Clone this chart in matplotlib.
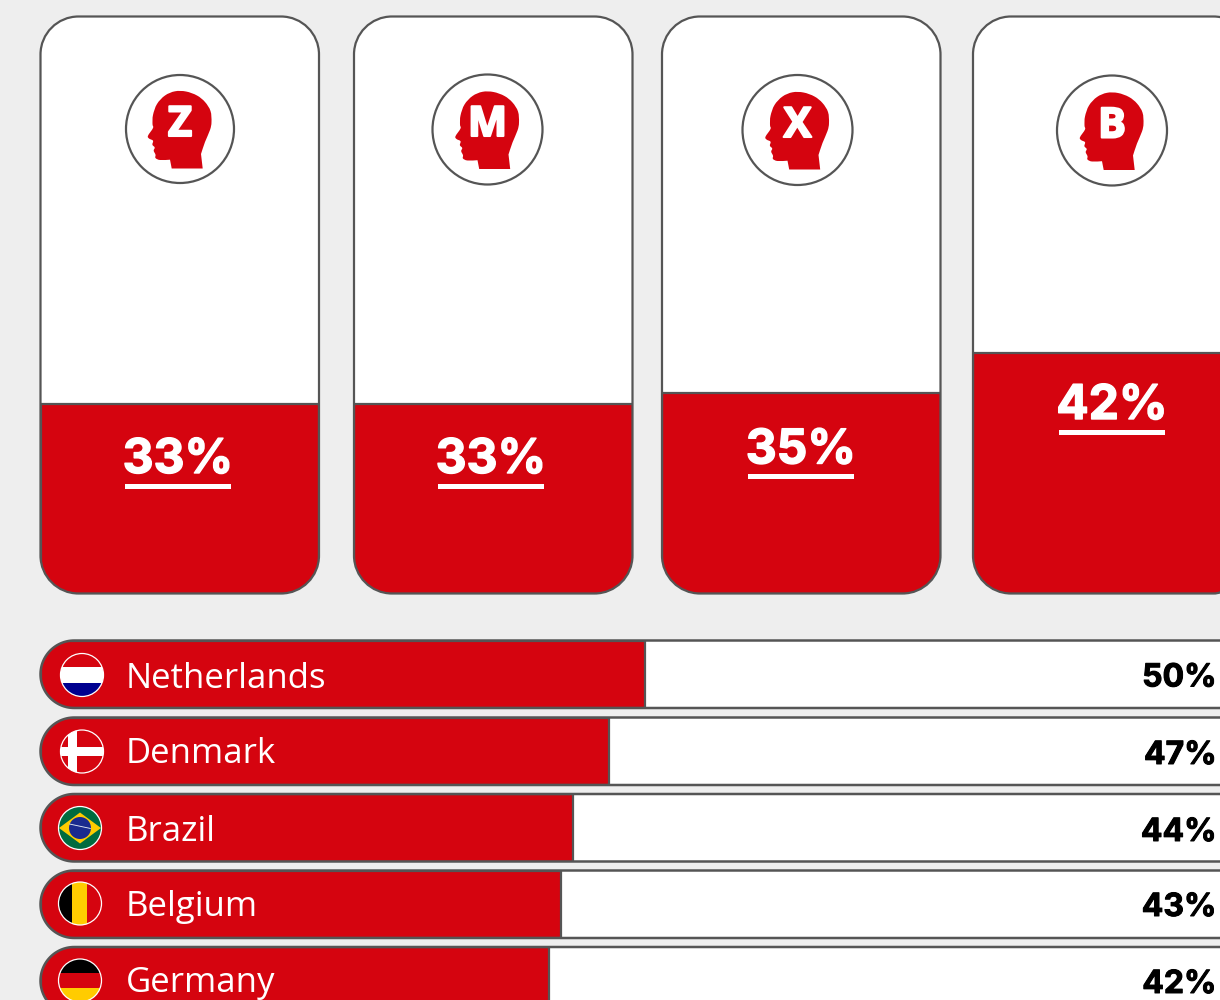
import matplotlib
matplotlib.use("Agg")
import matplotlib.pyplot as plt
import matplotlib.patheffects as pe
import numpy as np
from matplotlib.lines import Line2D
from matplotlib.patches import Circle, PathPatch, Polygon, Rectangle
from matplotlib.path import Path

# ---- data
generations = ["Z", "M", "X", "B"]
generation_values = [33, 33, 35, 42]
countries = ["Netherlands", "Denmark", "Brazil", "Belgium", "Germany"]
country_values = [50, 47, 44, 43, 42]

# ---- style and layout
RED = "#d5040f"
EDGE = "#555555"
BG = "#eeeeee"
FONT = "Open Sans"
BOLD = "Inter"
LW = 1.6

card_lefts = [40.5, 354, 662, 973]
card_width = 278.5
card_top, card_bottom = 16.5, 593.5
card_r = 38
card_px_per_pct = 5.73
circle_centers = [(180, 129), (487.5, 129.5), (797.5, 130), (1112, 130.5)]
circle_radii = [54, 55, 55, 55]
letter_y = [125.5, 125.5, 126.5, 127]
label_x = [178, 491, 801, 1112]
label_baselines = [473, 473, 463.5, 419]
underline_tops = [483.5, 483.5, 473.5, 429.5]

bar_tops = [640.5, 717.5, 794, 870.5, 947]
bar_height = 67.5
bar_x0 = 45
bar_px_per_pct = 12
bar_left = 40.5
bar_far_right = 1300
flag_centers = [(82, 675), (82, 751.5), (80, 828), (80, 903.5), (80, 980.5)]
flag_r = 21.5
name_baselines = [688, 763, 841, 916, 992]
pct_baselines = [686.5, 764, 841, 916, 993]

# head outline, relative to the circle centre, in px (smooth part, then neck corners)
head_smooth = [(21, 25), (25, 13), (30, 1), (31.5, -7), (30.5, -18), (25, -27), (17, -33.5), (6, -37.5),
               (-5, -37.7), (-15, -33.5), (-23, -25), (-27, -14), (-27.5, -5), (-27, -1),
               (-32, 6.7), (-31, 9.5), (-27, 11.7), (-27.6, 15.7), (-25.3, 18.5), (-26.3, 21.7),
               (-24.5, 25.7), (-24.5, 29), (-20, 31), (-10, 30.7)]
head_corners = [(-8.3, 39.5), (22.7, 39.5)]


def head_path(cx, cy):
    p = [(cx + x, cy + y) for x, y in head_smooth]
    verts, codes = [p[0]], [Path.MOVETO]
    for i in range(len(p) - 1):
        p0 = p[max(i - 1, 0)]
        p1, p2 = p[i], p[i + 1]
        p3 = p[min(i + 2, len(p) - 1)]
        c1 = (p1[0] + (p2[0] - p0[0]) / 6, p1[1] + (p2[1] - p0[1]) / 6)
        c2 = (p2[0] - (p3[0] - p1[0]) / 6, p2[1] - (p3[1] - p1[1]) / 6)
        verts += [c1, c2, p2]
        codes += [Path.CURVE4] * 3
    for x, y in head_corners:
        verts.append((cx + x, cy + y))
        codes.append(Path.LINETO)
    verts.append(p[0])
    codes.append(Path.CLOSEPOLY)
    return Path(verts, codes)


def round_rect(x, y, w, h, r):
    k = 0.5523 * r
    x1, y1 = x + w, y + h
    verts = [(x + r, y), (x1 - r, y), (x1 - r + k, y), (x1, y + r - k), (x1, y + r),
             (x1, y1 - r), (x1, y1 - r + k), (x1 - r + k, y1), (x1 - r, y1),
             (x + r, y1), (x + r - k, y1), (x, y1 - r + k), (x, y1 - r),
             (x, y + r), (x, y + r - k), (x + r - k, y), (x + r, y), (x + r, y)]
    codes = [Path.MOVETO, Path.LINETO] + [Path.CURVE4] * 3 + [Path.LINETO] + [Path.CURVE4] * 3 + \
            [Path.LINETO] + [Path.CURVE4] * 3 + [Path.LINETO] + [Path.CURVE4] * 3 + [Path.CLOSEPOLY]
    return Path(verts, codes)


def pill_points(x, y, x_end, h):
    """Open outline of a bar with a round left end, as polyline points."""
    r = h / 2
    t = np.linspace(-np.pi / 2, -3 * np.pi / 2, 60)
    xs = np.concatenate([[x_end], x + r + r * np.cos(t), [x_end]])
    ys = np.concatenate([[y], y + r + r * np.sin(t), [y + h]])
    return xs, ys


fig = plt.figure(figsize=(12.2, 10), dpi=100, facecolor=BG)
ax = fig.add_axes([0, 0, 1, 1])
ax.set_xlim(0, 1220)
ax.set_ylim(1000, 0)
ax.axis("off")

# ---- generation cards
for i, (gen, val) in enumerate(zip(generations, generation_values)):
    x = card_lefts[i]
    h = card_bottom - card_top
    path = round_rect(x, card_top, card_width, h, card_r)
    shape = PathPatch(path, fc="white", ec="none", zorder=1)
    ax.add_patch(shape)
    fill_top = card_bottom - val * card_px_per_pct
    fill = Rectangle((x, fill_top), card_width, val * card_px_per_pct, fc=RED, ec=EDGE, lw=LW, zorder=2)
    ax.add_patch(fill)
    fill.set_clip_path(shape)
    ax.add_patch(PathPatch(path, fc="none", ec=EDGE, lw=LW, zorder=3))
    cx, cy = circle_centers[i]
    ax.add_patch(Circle((cx, cy), circle_radii[i], fc="white", ec=EDGE, lw=LW, zorder=4))
    ax.add_patch(PathPatch(head_path(cx, cy), fc=RED, ec="none", zorder=5))
    ax.text(cx, letter_y[i], gen, color="white", fontsize=30, fontweight="bold", family=FONT,
            ha="center", va="center", zorder=6,
            path_effects=[pe.withStroke(linewidth=1.5, foreground="white")])
    ax.text(label_x[i], label_baselines[i], f"{val}%", color="white", fontsize=34.5, fontweight="bold",
            family=BOLD, ha="center", va="baseline", zorder=6,
            path_effects=[pe.withStroke(linewidth=1.0, foreground="white")])
    ax.add_patch(Rectangle((label_x[i] - 53, underline_tops[i]), 106, 5.5, fc="white", ec="none", zorder=6))


# ---- flags
def flag(i, ax, center):
    cx, cy = center
    base = Circle((cx, cy), flag_r, fc=RED, ec="none", zorder=5)
    ax.add_patch(base)
    parts = []
    if i == 0:
        parts = [Rectangle((cx - 25, cy - 8), 50, 15.5, fc="white"),
                 Rectangle((cx - 25, cy + 7.5), 50, 20, fc="#00008f")]
    elif i == 1:
        parts = [Rectangle((cx - 14, cy - 25), 9, 50, fc="white"),
                 Rectangle((cx - 25, cy - 4.5), 50, 9, fc="white")]
    elif i == 2:
        base.set_facecolor("#006b3f")
        parts = [Polygon([(cx - 21, cy), (cx, cy - 15.5), (cx + 21, cy), (cx, cy + 15.5)], fc="#fecb00"),
                 Circle((cx, cy), 11, fc="#1a2a8f"),
                 Rectangle((cx - 11, cy - 2.2), 22, 0.9, fc="#dfe6f2", angle=12, rotation_point="center")]
    elif i == 3:
        parts = [Rectangle((cx - 25, cy - 25), 17, 50, fc="black"),
                 Rectangle((cx - 8, cy - 25), 15, 50, fc="#ffcc00")]
    else:
        parts = [Rectangle((cx - 25, cy - 25), 50, 17, fc="black"),
                 Rectangle((cx - 25, cy + 7), 50, 20, fc="#ffcc00")]
    for p in parts:
        p.set_edgecolor("none")
        p.set_zorder(6)
        ax.add_patch(p)
        p.set_clip_path(base)
    ax.add_patch(Circle((cx, cy), flag_r, fc="none", ec="white", lw=0.9, zorder=7))


# ---- country bars
for i, (name, val) in enumerate(zip(countries, country_values)):
    y = bar_tops[i]
    xs, ys = pill_points(bar_left, y, bar_far_right, bar_height)
    shape = Polygon(np.column_stack([xs, ys]), closed=True, fc="white", ec="none", zorder=1)
    ax.add_patch(shape)
    bar = Rectangle((bar_left, y), bar_x0 + val * bar_px_per_pct - bar_left, bar_height,
                    fc=RED, ec=EDGE, lw=LW, zorder=2)
    ax.add_patch(bar)
    bar.set_clip_path(shape)
    ax.add_line(Line2D(xs, ys, color=EDGE, lw=LW + 0.2, zorder=3))
    flag(i, ax, flag_centers[i])
    ax.text(126, name_baselines[i], name, color="white", fontsize=25, family=FONT,
            ha="left", va="baseline", zorder=6)
    ax.text(1216.5, pct_baselines[i], f"{val}%", color="black", fontsize=23, fontweight="bold", family=BOLD,
            ha="right", va="baseline", zorder=6,
            path_effects=[pe.withStroke(linewidth=0.7, foreground="black")])

fig.savefig("out.png", dpi=100, facecolor=BG)
